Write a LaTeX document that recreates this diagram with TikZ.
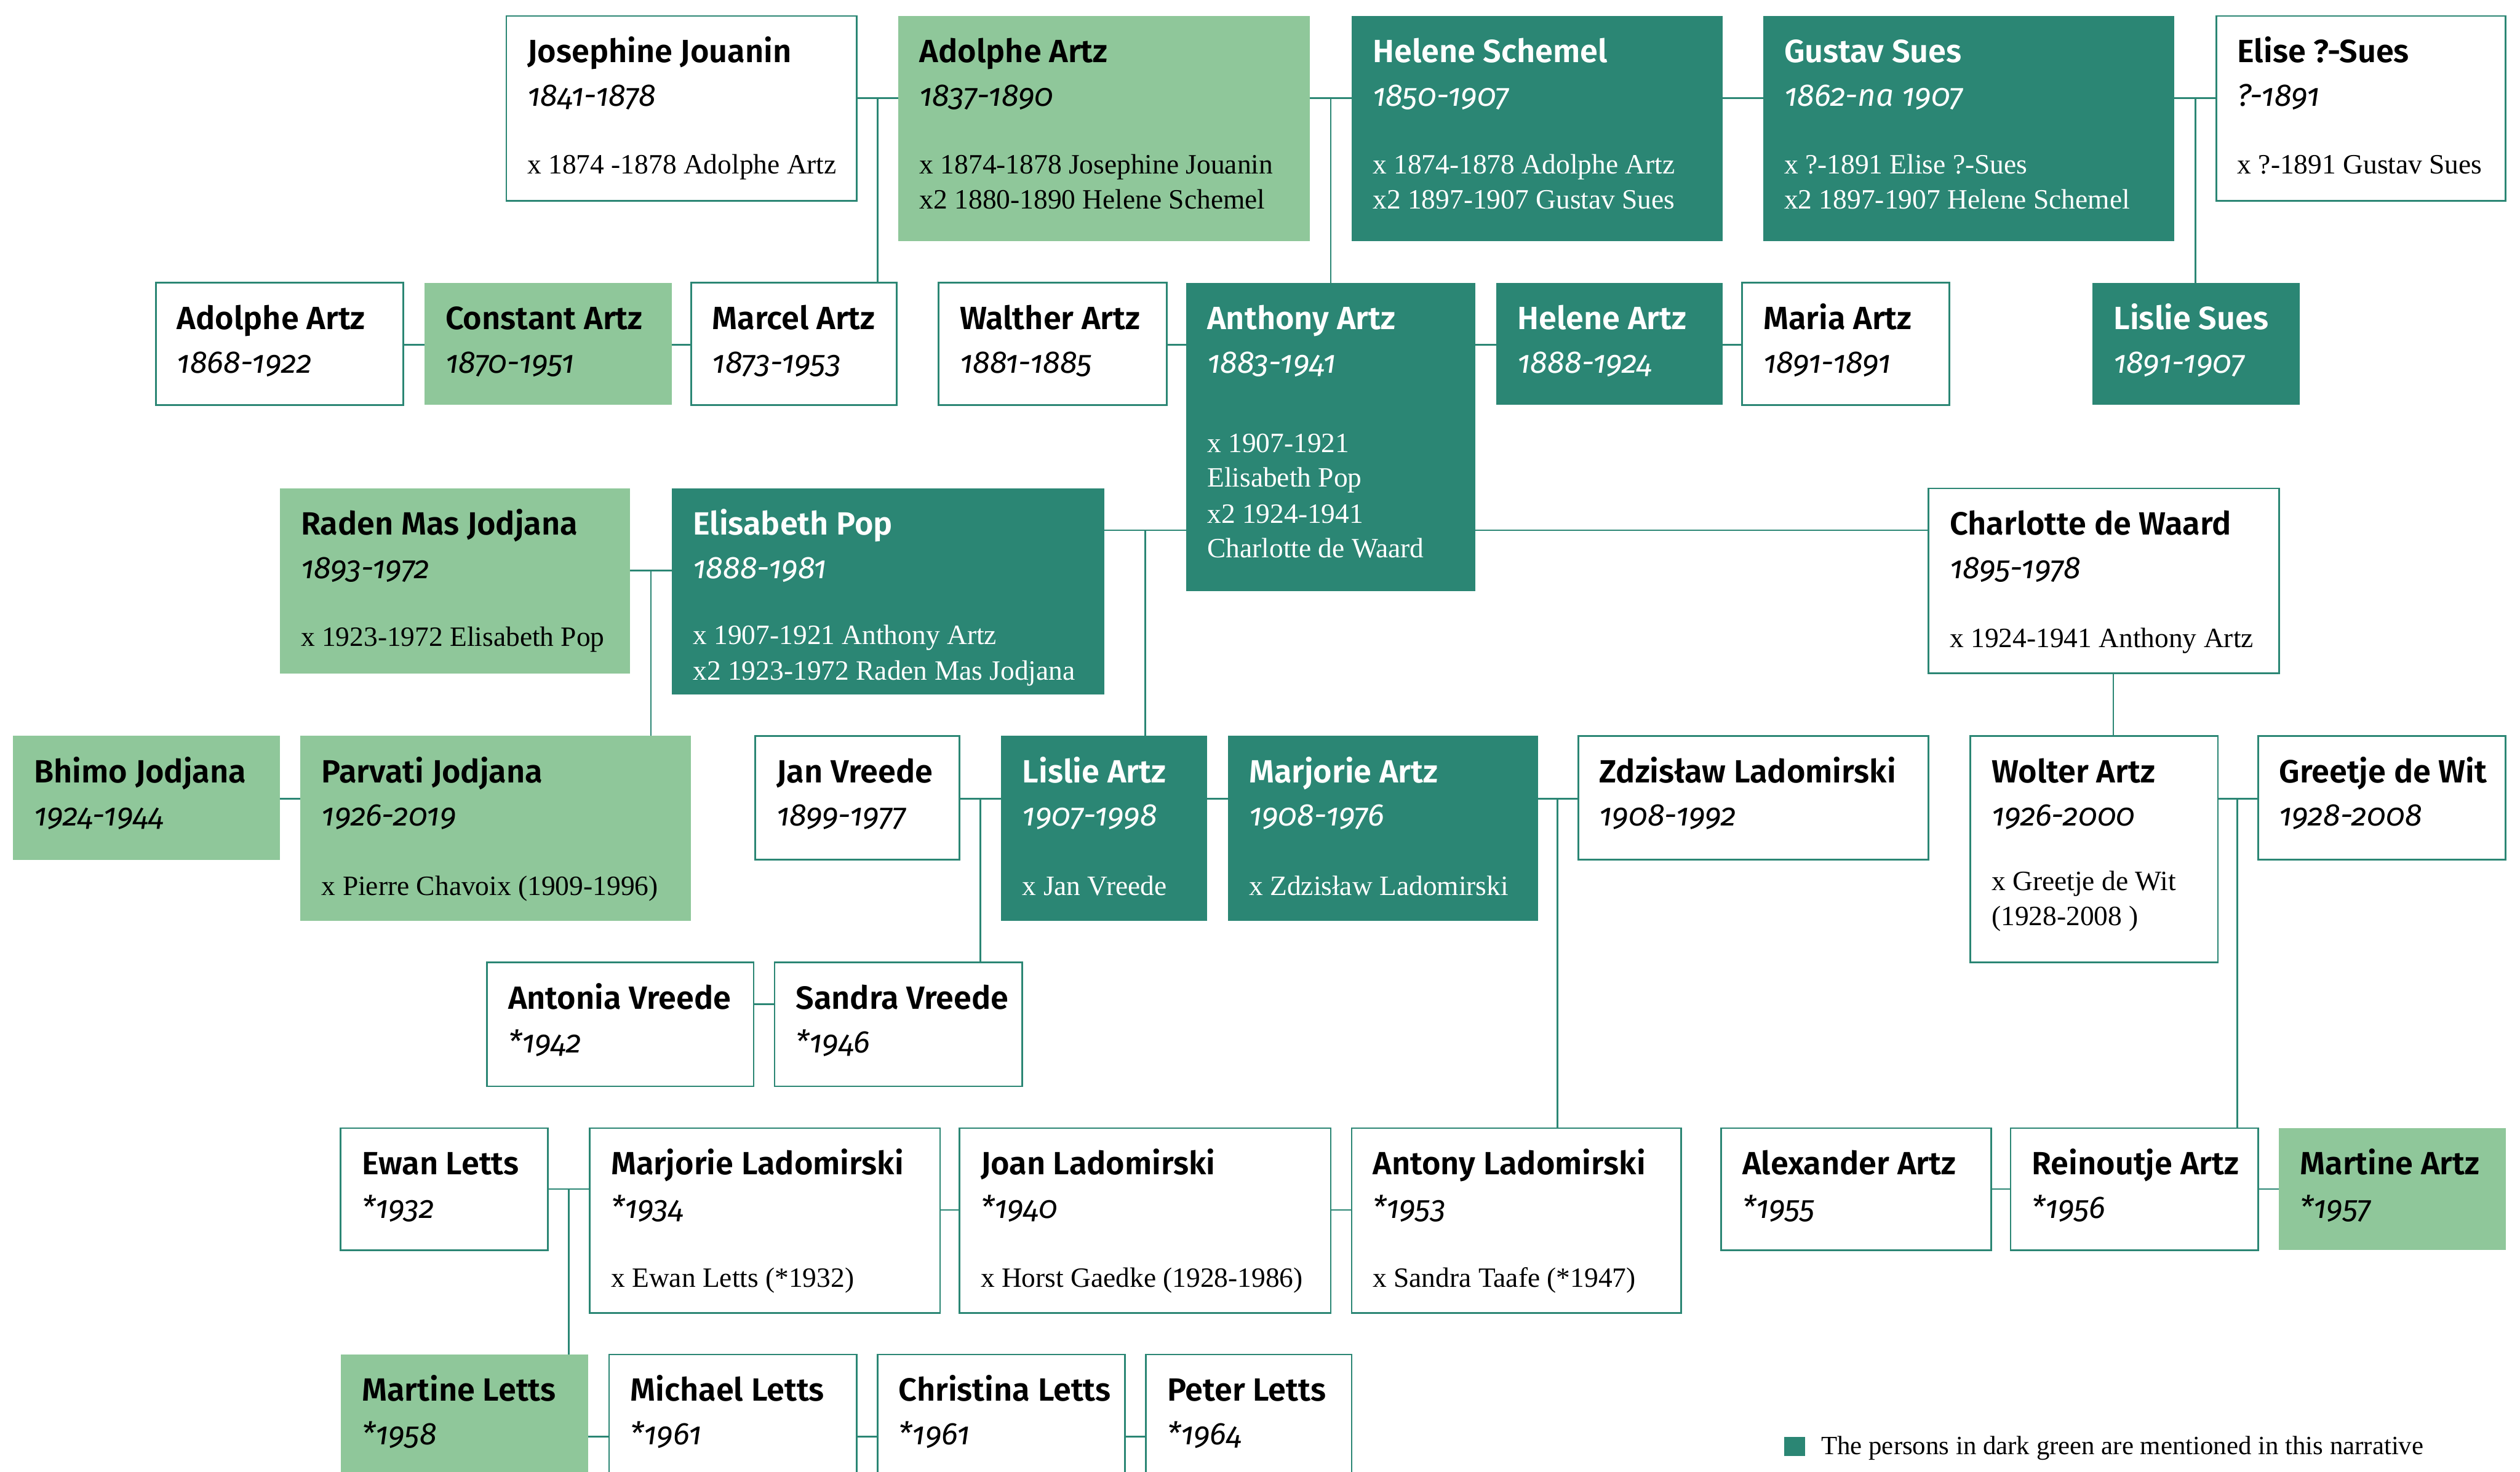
\documentclass[tikz,border=0pt]{standalone}
\usepackage{fontspec}
\usetikzlibrary{fit}
\setmainfont{Liberation Serif}
\IfFontExistsTF{Fira Sans SemiBold}{\newfontfamily\nmfont{Fira Sans SemiBold}}{\newfontfamily\nmfontX{Fira Sans}\def\nmfont{\nmfontX\bfseries}}
\newfontfamily\yrfont{Fira Sans}[Numbers=OldStyle]
\definecolor{dg}{HTML}{2B8674}
\definecolor{lg}{HTML}{8FC79A}
\tikzset{
  wb/.style={draw=dg, line width=1pt, fill=white},
  lb/.style={fill=lg},
  db/.style={fill=dg},
  wbt/.style={text=black},
  lbt/.style={text=black},
  dbt/.style={text=white},
  nm/.style={font=\nmfont\fontsize{20}{24}\selectfont, inner sep=0pt},
  yr/.style={font=\yrfont\itshape\fontsize{19.5}{23}\selectfont, inner sep=0pt},
  mr/.style={font=\fontsize{17.4}{21}\selectfont, inner sep=0pt},
  ln/.style={draw=dg, line width=1pt},
}
\newcommand\pers[8]{%
  \node[#2, fit={(#3,#4) (#5,#6)}, inner sep=0pt, outer sep=0pt] (#1) {};
  \node[#2t, nm, anchor=base west] (#1-n) at ([shift={(13pt,-29pt)}]#1.north west) {#7};
  \node[#2t, yr, anchor=base west] (#1-y) at ([shift={(13pt,-56pt)}]#1.north west) {#8};}
\newcommand\mar[5]{%
  \node[#2t, mr, anchor=base west] (#1-m#3) at ([shift={(13pt,-#4pt)}]#1.north west) {#5};}
\begin{document}
\begin{tikzpicture}[x=1pt,y=-1pt]
\useasboundingbox (0,0) rectangle (1568,916);
\clip (0,0) rectangle (1568,916);
\fill[white] (0,0) rectangle (1568,916);
% row 1
\pers{jj}{wb}{315}{10}{533}{125}{Josephine Jouanin}{1841-1878}
\mar{jj}{wb}{1}{98}{x 1874 -1878 Adolphe Artz}
\pers{aa}{lb}{559}{10}{815}{150}{Adolphe Artz}{1837-1890}
\mar{aa}{lb}{1}{98}{x 1874-1878 Josephine Jouanin}
\mar{aa}{lb}{2}{120}{x2 1880-1890 Helene Schemel}
\pers{hs}{db}{841}{10}{1072}{150}{Helene Schemel}{1850-1907}
\mar{hs}{db}{1}{98}{x 1874-1878 Adolphe Artz}
\mar{hs}{db}{2}{120}{x2 1897-1907 Gustav Sues}
\pers{gs}{db}{1097}{10}{1353}{150}{Gustav Sues}{1862-na 1907}
\mar{gs}{db}{1}{98}{x ?-1891 Elise ?-Sues}
\mar{gs}{db}{2}{120}{x2 1897-1907 Helene Schemel}
\pers{es}{wb}{1379}{10}{1559}{125}{Elise ?-Sues}{?-1891}
\mar{es}{wb}{1}{98}{x ?-1891 Gustav Sues}
% row 2
\pers{ad}{wb}{97}{176}{251}{252}{Adolphe Artz}{1868-1922}
\pers{ca}{lb}{264}{176}{418}{252}{Constant Artz}{1870-1951}
\pers{ma}{wb}{430}{176}{558}{252}{Marcel Artz}{1873-1953}
\pers{wa}{wb}{584}{176}{726}{252}{Walther Artz}{1881-1885}
\pers{an}{db}{738}{176}{918}{368}{Anthony Artz}{1883-1941}
\mar{an}{db}{1}{105.5}{x 1907-1921}
\mar{an}{db}{2}{127}{Elisabeth Pop}
\mar{an}{db}{3}{149.5}{x2 1924-1941}
\mar{an}{db}{4}{171}{Charlotte de Waard}
\pers{he}{db}{931}{176}{1072}{252}{Helene Artz}{1888-1924}
\pers{mr}{wb}{1084}{176}{1213}{252}{Maria Artz}{1891-1891}
\pers{ls}{db}{1302}{176}{1431}{252}{Lislie Sues}{1891-1907}
% row 3
\pers{rm}{lb}{174}{304}{392}{419}{Raden Mas Jodjana}{1893-1972}
\mar{rm}{lb}{1}{98}{x 1923-1972 Elisabeth Pop}
\pers{ep}{db}{418}{304}{687}{432}{Elisabeth Pop}{1888-1981}
\mar{ep}{db}{1}{97}{x 1907-1921 Anthony Artz}
\mar{ep}{db}{2}{119}{x2 1923-1972 Raden Mas Jodjana}
\pers{cw}{wb}{1200}{304}{1418}{419}{Charlotte de Waard}{1895-1978}
\mar{cw}{wb}{1}{99}{x 1924-1941 Anthony Artz}
% row 4
\pers{bj}{lb}{8}{458}{174}{535}{Bhimo Jodjana}{1924-1944}
\pers{pj}{lb}{187}{458}{430}{573}{Parvati Jodjana}{1926-2019}
\mar{pj}{lb}{1}{99}{x Pierre Chavoix (1909-1996)}
\pers{jv}{wb}{470}{458}{597}{535}{Jan Vreede}{1899-1977}
\pers{la}{db}{623}{458}{751}{573}{Lislie Artz}{1907-1998}
\mar{la}{db}{1}{99}{x Jan Vreede}
\pers{mz}{db}{764}{458}{957}{573}{Marjorie Artz}{1908-1976}
\mar{mz}{db}{1}{99}{x Zdzisław Ladomirski}
\pers{zl}{wb}{982}{458}{1200}{535}{Zdzisław Ladomirski}{1908-1992}
\pers{wo}{wb}{1226}{458}{1380}{599}{Wolter Artz}{1926-2000}
\mar{wo}{wb}{1}{96}{x Greetje de Wit}
\mar{wo}{wb}{2}{118}{(1928-2008 )}
\pers{gw}{wb}{1405}{458}{1559}{535}{Greetje de Wit}{1928-2008}
% row 5
\pers{av}{wb}{303}{599}{469}{676}{Antonia Vreede}{*1942}
\pers{sv}{wb}{482}{599}{636}{676}{Sandra Vreede}{*1946}
% row 6
\pers{el}{wb}{212}{702}{341}{778}{Ewan Letts}{*1932}
\pers{ml}{wb}{367}{702}{585}{817}{Marjorie Ladomirski}{*1934}
\mar{ml}{wb}{1}{99}{x Ewan Letts (*1932)}
\pers{jl}{wb}{597}{702}{828}{817}{Joan Ladomirski}{*1940}
\mar{jl}{wb}{1}{99}{x Horst Gaedke (1928-1986)}
\pers{al}{wb}{841}{702}{1046}{817}{Antony Ladomirski}{*1953}
\mar{al}{wb}{1}{99}{x Sandra Taafe (*1947)}
\pers{ax}{wb}{1071}{702}{1239}{778}{Alexander Artz}{*1955}
\pers{ra}{wb}{1251}{702}{1405}{778}{Reinoutje Artz}{*1956}
\pers{mt}{lb}{1418}{702}{1559}{778}{Martine Artz}{*1957}
% row 7
\pers{ms}{lb}{212}{843}{366}{940}{Martine Letts}{*1958}
\pers{mi}{wb}{379}{843}{533}{940}{Michael Letts}{*1961}
\pers{ct}{wb}{546}{843}{700}{940}{Christina Letts}{*1961}
\pers{pl}{wb}{713}{843}{841}{940}{Peter Letts}{*1964}
% legend
\node[fill=dg, minimum width=13pt, minimum height=12pt, inner sep=0pt, anchor=north west] (lgsq) at (1110,894) {};
\node[mr, font=\fontsize{16.4}{20}\selectfont, anchor=base west] (lgtx) at (1133,905) {The persons in dark green are mentioned in this narrative};
% connector coordinates
\coordinate (cJA) at (546,61);
\coordinate (cAH) at (828,61);
\coordinate (cGE) at (1366,61);
\coordinate (r2) at (0,214.5);
\coordinate (cRE) at (405,355);
\coordinate (cEA) at (712.5,330);
\coordinate (cCW) at (1315,0);
\coordinate (r4) at (0,497);
\coordinate (cJL) at (610,497);
\coordinate (cMZ) at (969,497);
\coordinate (cWG) at (1392,497);
\coordinate (r5) at (0,625);
\coordinate (cEM) at (354,740);
\coordinate (r6a) at (0,740);
\coordinate (r6b) at (0,753);
\coordinate (r7) at (0,894);
% row 1 couples
\draw[ln] (jj.east |- cJA) -- (aa.west |- cJA);
\draw[ln] (cJA) -- (cJA |- ma.north);
\draw[ln] (aa.east |- cAH) -- (hs.west |- cAH);
\draw[ln] (cAH) -- (cAH |- an.north);
\draw[ln] (hs.east |- cAH) -- (gs.west |- cAH);
\draw[ln] (gs.east |- cGE) -- (es.west |- cGE);
\draw[ln] (cGE) -- (cGE |- ls.north);
% row 2 siblings
\draw[ln] (ad.east |- r2) -- (ca.west |- r2);
\draw[ln] (ca.east |- r2) -- (ma.west |- r2);
\draw[ln] (wa.east |- r2) -- (an.west |- r2);
\draw[ln] (an.east |- r2) -- (he.west |- r2);
\draw[ln] (he.east |- r2) -- (mr.west |- r2);
% row 3
\draw[ln] (rm.east |- cRE) -- (ep.west |- cRE);
\draw[ln] (cRE) -- (cRE |- pj.north);
\draw[ln] (ep.east |- cEA) -- (an.west |- cEA);
\draw[ln] (cEA) -- (cEA |- la.north);
\draw[ln] (an.east |- cEA) -- (cw.west |- cEA);
\draw[ln] (cw.south -| cCW) -- (wo.north -| cCW);
% row 4
\draw[ln] (bj.east |- r4) -- (pj.west |- r4);
\draw[ln] (jv.east |- r4) -- (la.west |- r4);
\draw[ln] (cJL) -- (cJL |- sv.north);
\draw[ln] (la.east |- r4) -- (mz.west |- r4);
\draw[ln] (mz.east |- r4) -- (zl.west |- r4);
\draw[ln] (cMZ) -- (cMZ |- al.north);
\draw[ln] (wo.east |- r4) -- (gw.west |- r4);
\draw[ln] (cWG) -- (cWG |- ra.north);
% row 5
\draw[ln] (av.east |- r5) -- (sv.west |- r5);
% row 6
\draw[ln] (el.east |- r6a) -- (ml.west |- r6a);
\draw[ln] (cEM) -- (cEM |- ms.north);
\draw[ln] (ml.east |- r6b) -- (jl.west |- r6b);
\draw[ln] (jl.east |- r6b) -- (al.west |- r6b);
\draw[ln] (ax.east |- r6a) -- (ra.west |- r6a);
\draw[ln] (ra.east |- r6a) -- (mt.west |- r6a);
% row 7
\draw[ln] (ms.east |- r7) -- (mi.west |- r7);
\draw[ln] (mi.east |- r7) -- (ct.west |- r7);
\draw[ln] (ct.east |- r7) -- (pl.west |- r7);
\end{tikzpicture}
\end{document}
